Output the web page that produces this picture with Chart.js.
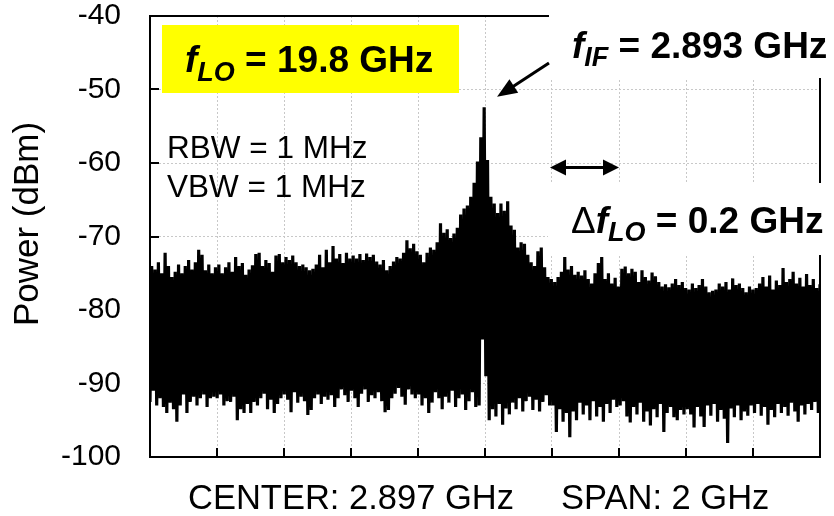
<!DOCTYPE html>
<html>
<head>
<meta charset="utf-8">
<script src="https://cdn.jsdelivr.net/npm/chart.js@4.4.1/dist/chart.umd.min.js"></script>
<style>
  html, body { margin: 0; padding: 0; background: #fff; }
</style>
</head>
<body>
<canvas id="spectrum" width="834" height="516"></canvas>
<script>
// analyzer sweep
const centerGHz = 2.897;
const spanGHz = 2;
const divisions = [0, 1, 2, 3, 4, 5, 6, 7, 8, 9, 10];
const powerTicks = [-100, -90, -80, -70, -60, -50, -40];

// trace per sweep bin: min and max in dBm, 20 bins per division
const lowerDbm = [
  -92.5, -91, -93, -92, -93.2, -94, -92.6, -93.5, -95.2, -93, -91.5, -94, -92.5, -91.8, -93, -92, -91.5, -93.2, -92, -91.8,
  -92, -91.5, -93, -92.4, -92.5, -91.8, -95, -93.5, -94, -92.8, -94, -92.5, -93, -92, -91.4, -93.5, -92.2, -94, -92.8, -92,
  -91.5, -92.2, -93.9, -91.2, -92.6, -91.8, -92.4, -94.3, -93.6, -92, -91.5, -92.8, -91.8, -92.2, -91.6, -93.2, -92, -90.8, -91.6, -92.5,
  -91, -92, -93.2, -91.4, -90.8, -92.5, -91.6, -92, -91.2, -92.4, -93.9, -93.6, -92, -91.4, -90.6, -91.8, -92.9, -90.8, -91.5, -92,
  -91.5, -93, -92, -94, -92.6, -91.2, -92, -93.5, -91.8, -92.6, -91, -93.2, -92, -91.5, -93.6, -92.4, -91.2, -93.2, -93, -84,
  -89, -95, -93.5, -94.5, -92.8, -95.6, -93.4, -94.2, -92.6, -93.5, -92, -93.8, -92.4, -91.8, -93.6, -92.2, -93.8, -92.5, -91.6, -93,
  -93, -96.6, -93.5, -95.2, -94, -97.3, -93.8, -95, -92.6, -94.2, -93, -95, -92.4, -94.5, -93.2, -95.2, -92.8, -94, -92.2, -93.2,
  -93, -92.4, -94.5, -95.3, -93.2, -94.2, -92.6, -95.2, -93.8, -95.7, -93.5, -94.6, -92.8, -96.6, -94, -93.2, -94.6, -95, -93.6, -94.2,
  -93.5, -94.2, -96, -93.2, -94.5, -95.9, -93, -94.4, -92.8, -95.2, -93.6, -94.8, -98.1, -93.4, -94.6, -93, -95, -93.8, -94.4, -93,
  -94, -92.8, -94.4, -93.2, -95.6, -93.6, -94.6, -92.8, -94, -93.2, -94.4, -92.6, -93.8, -95.2, -93, -94.2, -92.8, -93.6, -92.5, -94
];
const upperDbm = [
  -74, -74.5, -73.5, -75, -72.2, -74, -75.5, -74.8, -73.8, -75, -74, -73.2, -74.5, -73.5, -71.8, -72.5, -74.6, -73.8, -75, -74.2,
  -73.8, -75, -74.2, -73.5, -74.8, -72.8, -74, -73.6, -75.2, -74.5, -73.9, -72.4, -72.2, -74, -73.2, -73.6, -74.8, -72.6, -72.4, -73.5,
  -72.8, -73.2, -72.6, -73.5, -74, -73.8, -74.2, -74.6, -74.4, -73.8, -72.5, -74.2, -71.8, -73.5, -71.3, -73, -72.4, -73.6, -72.2, -73,
  -72.6, -73, -72.4, -73.2, -72.3, -72.8, -72.5, -73.4, -73.8, -73.2, -74.6, -74, -73.4, -72.8, -73, -72.2, -70.5, -71.6, -71, -72,
  -72.5, -73.5, -72.2, -71.5, -71.8, -70.8, -68.2, -69.5, -69, -70.2, -69.6, -68.8, -67, -66.2, -65.8, -64.6, -62.7, -59.8, -56.5, -52.4,
  -59.6, -64.6, -65.5, -66.8, -65.5, -66.5, -65.2, -68.5, -69.1, -71.5, -70.8, -71, -72.5, -73.5, -74, -72, -71.5, -74.2, -75.5, -75.8,
  -76.2, -75.5, -74.8, -72.8, -74.5, -74, -75.2, -74.8, -75.3, -74.6, -75.8, -76.4, -75, -73.6, -72.8, -75.8, -75, -76.4, -75.6, -76.8,
  -74.4, -74.1, -75, -74.4, -74.8, -76.2, -74.6, -75.5, -76, -74.9, -75.4, -76.2, -76.8, -76.5, -76.9, -76.4, -75.8, -76.6, -76.2, -77,
  -77.2, -76.4, -77, -76.6, -75.8, -76.8, -77.6, -77.4, -77.2, -76.4, -76.8, -76.2, -77.2, -75.7, -76.6, -76.4, -77, -77.6, -76.8, -77.2,
  -77, -76.4, -75.5, -76.8, -75.3, -77.2, -76, -76.6, -74.3, -76.2, -75.8, -74.8, -76.4, -75.6, -76.8, -75.1, -76.6, -75.8, -77, -76.5
];

const FONT = "'Liberation Sans', Arial, Helvetica, sans-serif";
const GRID = '#c8c8c8';
const startGHz = centerGHz - spanGHz / 2;
const nPoints = lowerDbm.length * 2;

// each bin is swept min then max, so the line zigzags through the band
const trace = [];
lowerDbm.forEach((lo, j) => {
  trace.push({ x: startGHz + spanGHz * (2 * j) / (nPoints - 1), y: lo });
  trace.push({ x: startGHz + spanGHz * (2 * j + 1) / (nPoints - 1), y: upperDbm[j] });
});

// text runs with italic subscripts
function drawRich(ctx, runs, x, y) {
  runs.forEach(([text, font, dy]) => {
    ctx.font = font;
    ctx.fillText(text, x, y + (dy || 0));
    x += ctx.measureText(text).width;
  });
}

function arrowHead(ctx, x0, y0, x1, y1, len, half) {
  const a = Math.atan2(y1 - y0, x1 - x0);
  const c = Math.cos(a), s = Math.sin(a);
  ctx.beginPath();
  ctx.moveTo(x1, y1);
  ctx.lineTo(x1 - len * c + half * s, y1 - len * s - half * c);
  ctx.lineTo(x1 - len * c - half * s, y1 - len * s + half * c);
  ctx.closePath();
  ctx.fill();
}

// no extra room for tick-label overhang, the frame is placed by layout padding
function noOverhang(s) {
  s.paddingTop = 0;
  s.paddingBottom = 0;
  s.paddingLeft = 0;
  s.paddingRight = 0;
}

const decorations = {
  id: 'decorations',
  beforeDatasetsDraw(chart) {
    const { ctx, chartArea: a, scales: { x, y } } = chart;
    ctx.save();
    // top and right edges of the frame
    ctx.strokeStyle = '#000';
    ctx.lineWidth = 2;
    ctx.beginPath();
    ctx.moveTo(a.left, a.top);
    ctx.lineTo(a.right, a.top);
    ctx.lineTo(a.right, a.bottom);
    ctx.stroke();
    // inward tick marks
    ctx.beginPath();
    divisions.forEach(d => {
      const px = Math.round(x.getPixelForValue(startGHz + d * spanGHz / 10));
      ctx.moveTo(px, a.bottom);
      ctx.lineTo(px, a.bottom - 9);
    });
    powerTicks.forEach(v => {
      const py = Math.round(y.getPixelForValue(v));
      ctx.moveTo(a.left, py);
      ctx.lineTo(a.left + 9, py);
    });
    ctx.stroke();
    // blank panels behind the right-hand labels
    ctx.fillStyle = '#fff';
    ctx.fillRect(549, 0, 285, 78);
    ctx.fillRect(548, 183, 286, 72);
    // LO tag
    ctx.fillStyle = '#ffff00';
    ctx.fillRect(162, 25, 297, 68);
    ctx.restore();
  },
  afterDraw(chart) {
    const { ctx, scales: { x, y } } = chart;
    const B = `bold 37px ${FONT}`;
    const BI = `italic bold 37px ${FONT}`;
    const SUB = `italic bold 27px ${FONT}`;
    ctx.save();
    ctx.fillStyle = '#000';
    ctx.textBaseline = 'alphabetic';
    drawRich(ctx, [['f', BI], ['LO', SUB, 9], [' = 19.8 GHz', B]], 185, 72);
    drawRich(ctx, [['f', BI], ['IF', SUB, 8], [' = 2.893 GHz', B]], 572, 58);
    drawRich(ctx, [['\u0394', `37px ${FONT}`], ['f', BI], ['LO', SUB, 8], [' = 0.2 GHz', B]], 571, 233);

    ctx.font = `31.5px ${FONT}`;
    ctx.fillText('RBW = 1 MHz', 167, 158);
    ctx.fillText('VBW = 1 MHz', 167, 197);

    // axis captions
    ctx.font = `34.5px ${FONT}`;
    ctx.fillText('CENTER: 2.897 GHz', 188, 509);
    ctx.fillText('SPAN: 2 GHz', 561, 509);
    ctx.save();
    ctx.translate(38, 224);
    ctx.rotate(-Math.PI / 2);
    ctx.textAlign = 'center';
    ctx.font = `35px ${FONT}`;
    ctx.fillText('Power (dBm)', 0, 0);
    ctx.restore();

    // pointer to the IF tone
    ctx.strokeStyle = '#000';
    ctx.lineWidth = 3;
    const p0 = [x.getPixelForValue(3.088), y.getPixelForValue(-46.4)];
    const p1 = [x.getPixelForValue(2.933), y.getPixelForValue(-51.0)];
    ctx.beginPath();
    ctx.moveTo(p0[0], p0[1]);
    ctx.lineTo(p1[0] + 8, p1[1] - 5);
    ctx.stroke();
    arrowHead(ctx, p0[0], p0[1], p1[0], p1[1], 20, 8);

    // LO step marker, one division wide
    const yA = y.getPixelForValue(-60.6);
    const xl = x.getPixelForValue(3.091), xr = x.getPixelForValue(3.297);
    ctx.beginPath();
    ctx.moveTo(xl + 10, yA);
    ctx.lineTo(xr - 10, yA);
    ctx.stroke();
    arrowHead(ctx, xr, yA, xl, yA, 16, 8);
    arrowHead(ctx, xl, yA, xr, yA, 16, 8);
    ctx.restore();
  }
};

new Chart(document.getElementById('spectrum').getContext('2d'), {
  type: 'line',
  data: {
    datasets: [{
      data: trace,
      borderColor: '#000',
      borderWidth: 3.2,
      pointRadius: 0,
      tension: 0,
      fill: false
    }]
  },
  options: {
    responsive: false,
    animation: false,
    layout: { padding: { top: 16, right: 14, left: 0, bottom: 0 } },
    plugins: { legend: { display: false }, tooltip: { enabled: false } },
    scales: {
      x: {
        type: 'linear',
        min: startGHz,
        max: startGHz + spanGHz,
        afterBuildTicks: s => { s.ticks = divisions.map(d => ({ value: startGHz + d * spanGHz / 10 })); },
        ticks: { display: false },
        grid: { color: GRID, lineWidth: 1, drawTicks: false },
        border: { color: '#000', width: 2, dash: [2, 2] },
        afterFit: s => { s.height = 59; noOverhang(s); }
      },
      y: {
        min: -100,
        max: -40,
        afterBuildTicks: s => { s.ticks = powerTicks.map(v => ({ value: v })); },
        ticks: { color: '#000', font: { family: FONT, size: 30 }, padding: 29 },
        grid: { color: GRID, lineWidth: 1, drawTicks: false },
        border: { color: '#000', width: 2, dash: [2, 2] },
        afterFit: s => { s.width = 150; noOverhang(s); }
      }
    }
  },
  plugins: [decorations]
});
</script>
</body>
</html>
